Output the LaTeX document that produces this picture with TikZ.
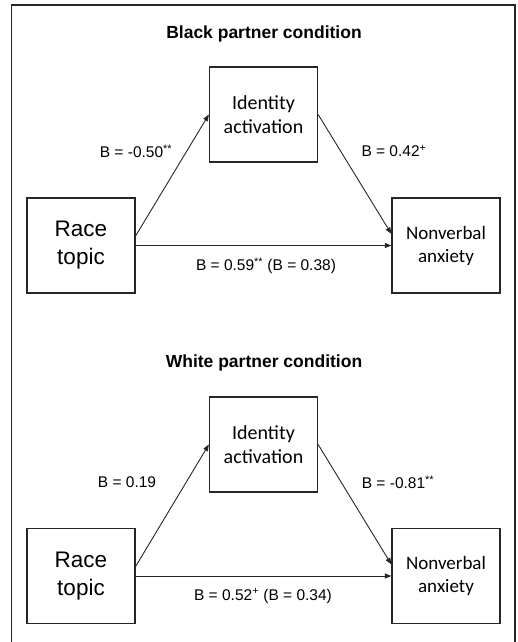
\documentclass[tikz,border=0pt]{standalone}
\usepackage{fontspec}
\setmainfont{Liberation Sans}
\newfontfamily\calib{Carlito}
\usepackage{tikz}
\usetikzlibrary{arrows.meta}

\tikzset{
  varbox/.style={draw=black!85, line width=1.3pt, minimum width=108pt, minimum height=95pt, inner sep=0pt, align=center},
  xbox/.style={varbox, font=\fontsize{22.5}{28}\selectfont},
  mbox/.style={varbox, font=\calib\fontsize{20}{24}\selectfont},
  ybox/.style={varbox, font=\calib\fontsize{19}{23}\selectfont},
  patharrow/.style={-{Triangle[length=6.5pt,width=5pt]}, line width=0.9pt, black!85},
  coef/.style={font=\fontsize{15.5}{18}\selectfont},
  heading/.style={font=\bfseries\fontsize{17.5}{20}\selectfont},
}

\begin{document}
\begin{tikzpicture}[x=1pt,y=-1pt]
        \useasboundingbox (0,0) rectangle (517,642);

        % frame, open at the bottom
        \draw[line width=1.5pt, black!85] (11.5,642) -- (11.5,5) -- (515,5) -- (515,642);

        % black partner condition
        \node[heading] (title1) at (264,34) {Black partner condition};
        \node[mbox] (ident1) at (263.5,114.5) {Identity\\activation};
        \node[xbox] (race1) at (81,245.5) {Race\\topic};
        \node[ybox] (nonv1) at (446,245.5) {Nonverbal\\anxiety};
        \draw[patharrow] (race1.10) -- (ident1.west);
        \draw[patharrow] (ident1.east) -- (nonv1.168);
        \draw[patharrow] (race1.east) -- (nonv1.west);
        \node[coef] (a1) at (136,151) {B = -0.50\textsuperscript{**}};
        \node[coef] (b1) at (394,151) {B = 0.42\textsuperscript{+}};
        \node[coef] (c1) at (266,266) {B = 0.59\textsuperscript{**} (B = 0.38)};

        % white partner condition
        \node[heading] (title2) at (264,363) {White partner condition};
        \node[mbox] (ident2) at (263.5,444.5) {Identity\\activation};
        \node[xbox] (race2) at (81,576) {Race\\topic};
        \node[ybox] (nonv2) at (446,576) {Nonverbal\\anxiety};
        \draw[patharrow] (race2.10) -- (ident2.west);
        \draw[patharrow] (ident2.east) -- (nonv2.168);
        \draw[patharrow] (race2.east) -- (nonv2.west);
        \node[coef] (a2) at (127,482) {B = 0.19};
        \node[coef] (b2) at (398,482) {B = -0.81\textsuperscript{**}};
        \node[coef] (c2) at (263,596) {B = 0.52\textsuperscript{+} (B = 0.34)};

\end{tikzpicture}
\end{document}
